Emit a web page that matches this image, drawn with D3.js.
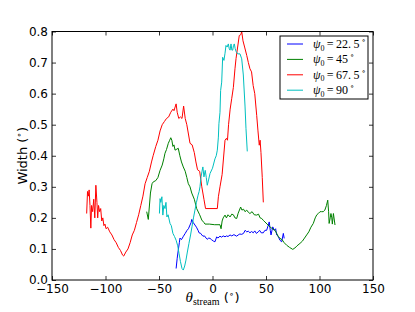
<!DOCTYPE html>
<html>
<head>
<meta charset="utf-8">
<script src="https://cdn.jsdelivr.net/npm/d3@7"></script>
<style>
  body { margin: 0; background: #fff; }
  svg { display: block; }
  .tick text { font-family: 'DejaVu Sans', sans-serif; font-size: 12px; fill: #000; }
  .math { font-family: 'Liberation Serif', 'DejaVu Serif', serif; }
</style>
</head>
<body>
<svg id="chart"></svg>
<script>
const width = 415
const height = 312
const margin = { top: 31.5, right: 42, bottom: 32, left: 52 }

// series as [theta, width] pairs
const psi22 = [[-34,0.037],[-33,0.07],[-32,0.096],[-31,0.12],[-30.4,0.135],[-29,0.13],[-27.5,0.139],[-25.5,0.15],[-23.8,0.16],[-22.5,0.165],[-21,0.177],[-20,0.185],[-19.4,0.195],[-18,0.185],[-16.4,0.177],[-15,0.17],[-13.5,0.16],[-12.6,0.152],[-11,0.15],[-10,0.145],[-8.9,0.141],[-7.5,0.142],[-6,0.135],[-5,0.131],[-3.5,0.135],[-2.3,0.134],[-1,0.13],[1,0.125],[2.3,0.123],[3.9,0.139],[5,0.135],[7,0.141],[8.5,0.138],[10,0.142],[11.7,0.139],[13,0.142],[14.5,0.14],[16.4,0.145],[18,0.142],[20,0.146],[22.6,0.141],[24,0.145],[25.5,0.148],[27.3,0.147],[29,0.15],[30.5,0.16],[32,0.155],[33.5,0.157],[35,0.152],[36.5,0.156],[38.1,0.152],[39.5,0.158],[41,0.15],[42.8,0.155],[44,0.16],[45.5,0.152],[47.5,0.152],[49,0.16],[50.6,0.16],[52,0.175],[53,0.187],[54,0.16],[54.7,0.145],[56.3,0.171],[57.8,0.16],[59,0.165],[60,0.145],[61.5,0.14],[63,0.128],[64.7,0.123],[66.2,0.15],[67,0.134]]

const psi45 = [[-61.5,0.22],[-60,0.195],[-58,0.28],[-56.5,0.31],[-55.3,0.316],[-53,0.32],[-51,0.33],[-49,0.353],[-47,0.37],[-45.5,0.39],[-44.4,0.408],[-43,0.42],[-41.3,0.44],[-40,0.45],[-39,0.458],[-38,0.45],[-37,0.43],[-36,0.435],[-35,0.418],[-34,0.42],[-32,0.424],[-30.5,0.4],[-29,0.38],[-27.3,0.364],[-25.5,0.35],[-24,0.33],[-22.6,0.31],[-21,0.3],[-19.4,0.28],[-17,0.26],[-14.8,0.23],[-12,0.21],[-10,0.193],[-8,0.185],[-7,0.18],[-3,0.18],[2,0.178],[7,0.178],[8,0.165],[9,0.19],[10,0.2],[11.7,0.209],[13,0.2],[14.5,0.21],[16.4,0.203],[18,0.212],[19.5,0.21],[21,0.2],[22.6,0.198],[24,0.215],[26.3,0.235],[27.5,0.225],[29,0.228],[30.4,0.22],[32,0.225],[33.5,0.218],[35,0.214],[37,0.22],[39,0.21],[41.3,0.209],[43,0.212],[44.5,0.2],[46,0.198],[47.5,0.192],[49,0.187],[51,0.18],[53.7,0.171],[56,0.165],[58.4,0.16],[60,0.15],[61.5,0.14],[63,0.134],[65,0.13],[67,0.12],[69.3,0.112],[72,0.105],[75,0.0986],[77,0.103],[79,0.11],[81.8,0.118],[84,0.125],[86,0.135],[88,0.145],[90,0.155],[92,0.17],[94.2,0.182],[96,0.2],[97.5,0.21],[98.9,0.214],[100.5,0.22],[102,0.22],[103.5,0.22],[105,0.225],[106.5,0.24],[107.7,0.257],[108.5,0.22],[109,0.182],[110,0.2],[110.7,0.214],[111.5,0.2],[112,0.18],[113,0.214],[114.5,0.177]]

const psi67 = [[-117.6,0.214],[-116.8,0.285],[-116,0.27],[-115.3,0.29],[-114.5,0.24],[-113.7,0.167],[-113,0.24],[-112,0.22],[-111,0.26],[-110,0.2],[-109,0.305],[-108,0.25],[-107.3,0.2],[-106.5,0.24],[-105.5,0.22],[-104.5,0.23],[-103.5,0.19],[-102.5,0.2],[-101.5,0.175],[-100.5,0.18],[-99.5,0.165],[-98,0.17],[-96,0.155],[-94,0.145],[-92,0.13],[-90,0.12],[-88,0.105],[-86,0.095],[-84,0.08],[-83,0.077],[-81,0.09],[-79,0.1],[-77,0.12],[-75,0.145],[-73,0.16],[-71,0.185],[-69,0.21],[-67,0.24],[-65,0.27],[-63,0.31],[-61,0.33],[-59,0.35],[-57,0.38],[-55.5,0.4],[-53,0.43],[-51,0.45],[-49,0.48],[-47,0.5],[-45,0.51],[-43,0.52],[-41,0.525],[-39,0.54],[-37,0.55],[-36,0.545],[-34,0.567],[-33,0.54],[-31.5,0.52],[-30,0.525],[-28.5,0.52],[-27,0.56],[-25.5,0.52],[-24,0.5],[-22.5,0.47],[-21,0.44],[-19,0.435],[-17,0.41],[-15.5,0.38],[-14,0.355],[-12,0.35],[-10,0.3],[-8,0.26],[-6.5,0.23],[4.5,0.23],[5.5,0.268],[7,0.3],[9,0.34],[11.7,0.45],[13,0.456],[14,0.45],[15,0.5],[16.5,0.55],[18,0.585],[19.5,0.62],[21,0.68],[22,0.713],[23.5,0.75],[25,0.787],[26.5,0.79],[27.3,0.8],[28.5,0.77],[30,0.75],[32,0.723],[33.5,0.7],[35,0.68],[36.5,0.67],[38,0.626],[39.5,0.6],[41.3,0.53],[42.5,0.48],[43.7,0.434],[44.5,0.45],[45.3,0.41],[46.5,0.33],[47.5,0.25]]

const psi90 = [[-49.6,0.214],[-49,0.262],[-48.3,0.25],[-47.3,0.268],[-46.4,0.209],[-45.5,0.24],[-44.4,0.23],[-43.5,0.25],[-42.6,0.203],[-41.5,0.21],[-39.7,0.182],[-38.5,0.175],[-37,0.15],[-35.5,0.14],[-34,0.128],[-32.5,0.11],[-31.3,0.086],[-30,0.06],[-28.5,0.037],[-27.3,0.032],[-26,0.045],[-24.8,0.064],[-23.5,0.09],[-22,0.118],[-20.5,0.145],[-19.2,0.171],[-17.8,0.2],[-16.4,0.225],[-15,0.25],[-13.5,0.273],[-12.5,0.285],[-11.7,0.3],[-10.7,0.332],[-9.8,0.35],[-9,0.364],[-8,0.332],[-6.8,0.353],[-5.8,0.33],[-4.9,0.305],[-3.5,0.325],[-2.3,0.343],[0,0.36],[2.3,0.39],[3.5,0.4],[4.5,0.418],[5.5,0.46],[6,0.503],[7,0.54],[7.6,0.61],[8.6,0.637],[9.5,0.717],[10.7,0.707],[11.7,0.73],[12.6,0.755],[13.7,0.75],[14.8,0.76],[15.6,0.745],[16.4,0.74],[17.3,0.76],[18.1,0.74],[18.9,0.74],[19.6,0.755],[20.4,0.76],[21.2,0.745],[22,0.736],[23.5,0.728],[25.7,0.728],[27.3,0.712],[28.8,0.66],[30.4,0.56],[31.3,0.487],[32.5,0.414]]

const seriesLabels = ['22.5', '45', '67.5', '90']
const seriesColors = ['#0000ff', '#008000', '#ff0000', '#00bfbf']
const seriesData = [psi22, psi45, psi67, psi90]

const xTicks = [-150, -100, -50, 0, 50, 100, 150]
const yTicks = [0.0, 0.1, 0.2, 0.3, 0.4, 0.5, 0.6, 0.7, 0.8]

const svg = d3.select('#chart').attr('width', width).attr('height', height)
svg.append('rect').attr('width', width).attr('height', height).attr('fill', '#fff')

const x = d3.scaleLinear().domain([-150, 150]).range([margin.left, width - margin.right])
const y = d3.scaleLinear().domain([0, 0.8]).range([height - margin.bottom, margin.top])

const line = d3.line().x((d) => x(d[0])).y((d) => y(d[1]))

const plot = svg.append('g')
seriesData.forEach((s, i) => {
  plot.append('path')
    .datum(s)
    .attr('d', line)
    .attr('fill', 'none')
    .attr('stroke', seriesColors[i])
    .attr('stroke-width', 1)
    .attr('stroke-linejoin', 'round')
})

// axes with inward ticks, mirrored on top and right
const fmtY = d3.format('.1f')
svg.append('g')
  .attr('class', 'axis')
  .attr('transform', `translate(0,${y(0)})`)
  .call(d3.axisBottom(x).tickValues(xTicks).tickSizeInner(-4).tickSizeOuter(0).tickPadding(4.5).tickFormat((d) => String(d).replace('-', '\u2212')))
svg.append('g')
  .attr('class', 'axis')
  .attr('transform', `translate(0,${y(0.8)})`)
  .call(d3.axisTop(x).tickValues(xTicks).tickSizeInner(-4).tickSizeOuter(0).tickFormat(''))
svg.append('g')
  .attr('class', 'axis')
  .attr('transform', `translate(${x(-150)},0)`)
  .call(d3.axisLeft(y).tickValues(yTicks).tickSizeInner(-4).tickSizeOuter(0).tickPadding(4).tickFormat(fmtY))
svg.append('g')
  .attr('class', 'axis')
  .attr('transform', `translate(${x(150)},0)`)
  .call(d3.axisRight(y).tickValues(yTicks).tickSizeInner(-4).tickSizeOuter(0).tickFormat(''))

svg.selectAll('.axis .domain').remove()
svg.selectAll('.axis line').attr('stroke', '#000').attr('stroke-width', 0.8)

svg.append('rect')
  .attr('x', x(-150))
  .attr('y', y(0.8))
  .attr('width', x(150) - x(-150))
  .attr('height', y(0) - y(0.8))
  .attr('fill', 'none')
  .attr('stroke', '#000')
  .attr('stroke-width', 1)

// axis labels
const yLabel = svg.append('text')
  .attr('transform', `translate(26.5,${(y(0) + y(0.8)) / 2}) rotate(-90)`)
  .attr('text-anchor', 'middle')
  .style('font-family', 'DejaVu Sans, sans-serif')
  .style('font-size', '13px')
yLabel.append('tspan').text('Width (')
yLabel.append('tspan').attr('dy', -5).style('font-size', '9px').text('\u2218')
yLabel.append('tspan').attr('dy', 5).text(')')

const xLabel = svg.append('text')
  .attr('x', (x(-150) + x(150)) / 2)
  .attr('y', 302)
  .attr('text-anchor', 'middle')
  .style('font-size', '13px')
xLabel.append('tspan').attr('class', 'math').style('font-style', 'italic').style('font-size', '15px').text('\u03b8')
xLabel.append('tspan').attr('class', 'math').attr('dy', 3).style('font-size', '10px').text('stream')
xLabel.append('tspan').attr('dy', -3).style('font-family', 'DejaVu Sans, sans-serif').text(' (')
xLabel.append('tspan').attr('dy', -5).style('font-family', 'DejaVu Sans, sans-serif').style('font-size', '9px').text('\u2218')
xLabel.append('tspan').attr('dy', 5).style('font-family', 'DejaVu Sans, sans-serif').text(')')

// legend
const legend = svg.append('g').attr('transform', 'translate(280,36)')
legend.append('rect')
  .attr('width', 88)
  .attr('height', 63)
  .attr('fill', '#fff')
  .attr('stroke', '#000')
  .attr('stroke-width', 1)

seriesLabels.forEach((lab, i) => {
  const row = legend.append('g').attr('transform', `translate(0,${8 + i * 15.4})`)
  row.append('line')
    .attr('x1', 7).attr('x2', 23)
    .attr('stroke', seriesColors[i])
    .attr('stroke-width', 1)
  const t = row.append('text')
    .attr('class', 'math')
    .attr('x', 33)
    .attr('y', 4)
    .style('font-size', '12px')
  t.append('tspan').style('font-style', 'italic').text('\u03c8')
  t.append('tspan').attr('dy', 2.5).style('font-size', '8px').text('0')
  t.append('tspan').attr('dy', -2.5).text('\u2009=\u2009' + lab.replace('.', '.\u2009'))
  t.append('tspan').attr('dx', 2).attr('dy', -5).style('font-size', '8px').text('\u2218')
})
</script>
</body>
</html>
